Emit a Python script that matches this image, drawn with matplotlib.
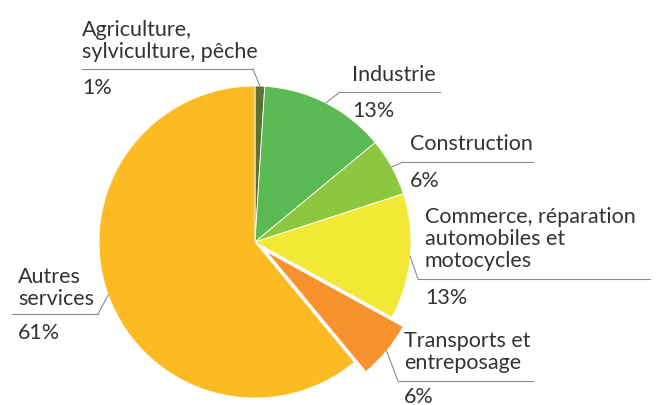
import numpy as np
import matplotlib.pyplot as plt

plt.rcParams['font.family'] = ['Lato', 'DejaVu Sans']

categories = ['Agriculture,\nsylviculture, pêche', 'Industrie', 'Construction',
              'Commerce, réparation\nautomobiles et\nmotocycles',
              'Transports et\nentreposage', 'Autres\nservices']
shares = [1, 13, 6, 13, 6, 61]
colors = ['#5a7236', '#5cba54', '#8dc63f', '#f1e936', '#f7922f', '#fdbb23']
explode_frac = [0, 0, 0, 0, 0.095, 0]

# label layout in pixel coords (y from top): text left, first baseline, rule y, rule x0, rule x1
label_pos = [
    (82, 36, 70, 82, 253),
    (352, 81, 93, 340, 440),
    (410, 150, 163, 403, 533),
    (425, 223, 280, 418, 650),
    (404, 347, 382, 398, 533),
    (18, 283, 315, 12, 98),
]

W, H = 660, 406
cx, cy, r = 255, H - 243, 156
text_color = '#333333'
line_color = '#8c8c8c'
fs = 15.5
lh = 22

fig = plt.figure(figsize=(6.6, 4.06), dpi=100)
ax = fig.add_axes([0, 0, 1, 1])

wedges, _ = ax.pie(shares, colors=colors, explode=[e * r for e in explode_frac],
                   startangle=90, counterclock=False, center=(cx, cy), radius=r,
                   frame=True, wedgeprops=dict(edgecolor='white', linewidth=0.6))

for w, lab, val, (tx, tb, ly, lx0, lx1) in zip(wedges, categories, shares, label_pos):
    lines = lab.split('\n')
    for i, s in enumerate(lines):
        ax.text(tx, H - (tb + i * lh), s, fontsize=fs, color=text_color,
                ha='left', va='baseline')
    ax.text(tx, max(H - (ly + 24), 3), f'{val}%', fontsize=fs, color=text_color,
            ha='left', va='baseline')
    # leader line: from middle of wedge arc to the rule
    mid = np.deg2rad((w.theta1 + w.theta2) / 2)
    px = w.center[0] + w.r * np.cos(mid)
    py = w.center[1] + w.r * np.sin(mid)
    near = lx0 if abs(lx0 - px) < abs(lx1 - px) else lx1
    ax.plot([px, near], [py, H - ly], color=line_color, lw=0.8)
    ax.plot([lx0, lx1], [H - ly, H - ly], color=line_color, lw=0.8)

ax.set_xlim(0, W)
ax.set_ylim(0, H)
ax.set_aspect('auto')
ax.axis('off')

fig.savefig('out.png', dpi=100)
